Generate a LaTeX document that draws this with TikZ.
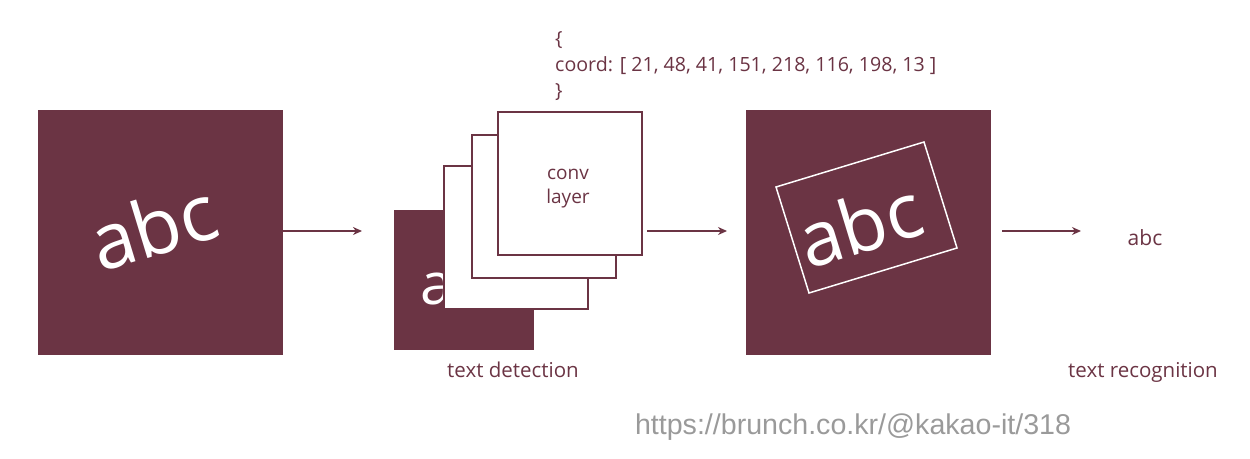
\documentclass[tikz,border=0pt]{standalone}
\usepackage{fontspec}
\setmainfont{Open Sans}
\newfontfamily\urlfont{Liberation Sans}
\usetikzlibrary{arrows.meta}
\definecolor{maroon}{HTML}{6B3444}
\definecolor{urlgray}{HTML}{9A9A9A}
\tikzset{
  darksq/.style={fill=maroon, draw=none, minimum width=#1, minimum height=#1, inner sep=0pt, anchor=north west},
  framesq/.style={fill=white, draw=maroon, line width=2pt, minimum width=144pt, minimum height=143pt, inner sep=0pt, anchor=north west},
  lbl/.style={text=maroon, font=\fontsize{20.5}{24}\selectfont, inner sep=0pt},
  bigabc/.style={text=white, font=\fontsize{78}{80}\selectfont, inner sep=0pt},
  arr/.style={draw=maroon, line width=1.6pt, -{Stealth[length=9pt,width=8pt]}}
}
\begin{document}
\begin{tikzpicture}[x=1pt,y=-1pt]
\useasboundingbox (0,0) rectangle (1250,458);
% left square
\node[darksq=245pt] (in) at (38,110) {};
\node[bigabc, rotate=17] (inabc) at (153,226) {abc};
% detection stack
\node[darksq=140pt] (det) at (394,210) {};
\node[bigabc, font=\fontsize{58}{60}\selectfont, anchor=base west] (deta) at (420,304) {abc};
\node[framesq] (f1) at (443,165) {};
\node[framesq] (f2) at (471,134) {};
\node[framesq] (f3) at (497,111) {};
\node[lbl, align=center, font=\fontsize{19}{24}\selectfont] (conv) at (568,189) {conv\\layer};
\node[lbl, anchor=base] (dlabel) at (513,377) {text detection};
\node[lbl, align=left, anchor=north west, font=\fontsize{19.6}{26}\selectfont] (coord) at (555,31) {\{\\coord: [ 21, 48, 41, 151, 218, 116, 198, 13 ]\\\}};
% right square
\node[darksq=245pt] (out) at (746,110) {};
\coordinate (c1) at (776,187);
\coordinate (c2) at (924,142);
\coordinate (c3) at (957,248);
\coordinate (c4) at (809,293);
\draw[white, line width=1.5pt] (c1) -- (c2) -- (c3) -- (c4) -- cycle;
\node[bigabc, font=\fontsize{76}{78}\selectfont, rotate=17] (outabc) at (860,224) {abc};
% result
\node[lbl, font=\fontsize{21}{24}\selectfont, anchor=base] (res) at (1145,245) {abc};
\node[lbl, anchor=base] (rlabel) at (1143,377) {text recognition};
% arrows
\coordinate (a1e) at (362,231);
\coordinate (a2s) at (647,231);
\coordinate (a2e) at (727,231);
\coordinate (a3s) at (1002,231);
\coordinate (a3e) at (1081,231);
\draw[arr] (in.east |- a1e) -- (a1e);
\draw[arr] (a2s) -- (a2e);
\draw[arr] (a3s) -- (a3e);
% url
\node[text=urlgray, font=\urlfont\fontsize{28.6}{31}\selectfont, inner sep=0pt] (url) at (853,427) {https://brunch.co.kr/@kakao-it/318};
\end{tikzpicture}
\end{document}
